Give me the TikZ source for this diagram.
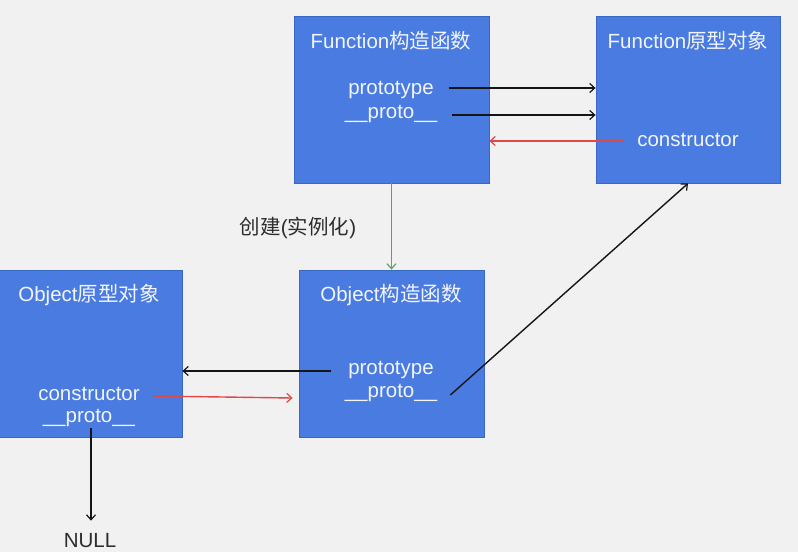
\documentclass[tikz,border=0pt]{standalone}
\usepackage{fontspec}
\setmainfont{Liberation Sans}
\newfontfamily\cjkfont{Noto Sans CJK SC}
\newcommand{\cjk}[1]{{\cjkfont #1}}
\usetikzlibrary{arrows.meta}
\definecolor{bgc}{HTML}{F1F1F1}
\definecolor{boxfill}{HTML}{4A7BE0}
\definecolor{boxborder}{HTML}{3A66C4}
\definecolor{boxtext}{HTML}{F2F5FC}
\definecolor{redline}{HTML}{E04848}
\definecolor{greenline}{HTML}{5BA55B}
\definecolor{darkline}{HTML}{151515}
\tikzset{
  box/.style={draw=boxborder, fill=boxfill, line width=0.8pt, inner sep=0pt},
  txt/.style={text=boxtext, font=\fontsize{20.5}{24}\selectfont, inner sep=1pt},
  outtxt/.style={text=darkline!90, font=\fontsize{20.5}{24}\selectfont, inner sep=1pt},
  conn/.style={line width=1.4pt, -{Straight Barb[length=5pt,width=9pt,line width=1.2pt]}},
  blk/.style={conn, draw=darkline},
  redc/.style={conn, draw=redline},
  grnc/.style={conn, draw=greenline},
}
\begin{document}
\begin{tikzpicture}[x=1pt,y=-1pt]
\fill[bgc] (0,0) rectangle (798,552);
\useasboundingbox (0,0) rectangle (798,552);
% boxes
\node[box, minimum width=195pt, minimum height=167pt] (fc) at (391.5,99.5) {};
\node[box, minimum width=184pt, minimum height=167pt] (fp) at (688,99.5) {};
\node[box, minimum width=184pt, minimum height=167pt] (op) at (90,353.5) {};
\node[box, minimum width=185pt, minimum height=167pt] (oc) at (391.5,353.5) {};
% texts: Function constructor
\node[txt] (fct) at (391,41) {Function\cjk{构造函数}};
\node[txt] (fcp) at (391,90) {prototype};
\node[txt] (fcpr) at (391,114) {\_\_proto\_\_};
% Function prototype object
\node[txt] (fpt) at (688,41) {Function\cjk{原型对象}};
\node[txt] (fpc) at (688,140) {constructor};
% Object prototype object
\node[txt] (opt) at (89,295) {Object\cjk{原型对象}};
\node[txt] (opc) at (89,394) {constructor};
\node[txt] (oppr) at (89,418) {\_\_proto\_\_};
% Object constructor
\node[txt] (oct) at (391,295) {Object\cjk{构造函数}};
\node[txt] (ocp) at (391,370) {prototype};
\node[txt] (ocpr) at (391,393) {\_\_proto\_\_};
% outside labels
\node[outtxt] (lbl) at (298,228) {\cjk{创建}(\cjk{实例化})};
\node[outtxt] (null) at (90,541) {NULL};
% connectors
\draw[blk] ([xshift=14pt,yshift=2pt]fcp.east) -- ([yshift=2pt]fp.west |- fcp.east);
\draw[blk] ([xshift=14pt,yshift=-1pt]fcpr.east) -- ([yshift=-1pt]fp.west |- fcpr.east);
\draw[redc] ([xshift=-12pt,yshift=-1pt]fpc.west) -- ([yshift=-1pt]fc.east |- fpc.west);
\draw[grnc] (fc.south) -- (oc.north);
\draw[blk] ([xshift=-16pt,yshift=-1pt]ocp.west) -- ([yshift=-1pt]op.east |- ocp.west);
\draw[redc] ([xshift=12pt,yshift=-2pt]opc.east) -- ([xshift=-6pt,yshift=-4pt]oc.west |- opc.east);
\draw[blk] ([xshift=12pt,yshift=-2pt]ocpr.east) -- (fp.south);
\draw[blk] ([xshift=2pt]oppr.south) -- ([xshift=1pt,yshift=12pt]null.north);
\end{tikzpicture}
\end{document}
